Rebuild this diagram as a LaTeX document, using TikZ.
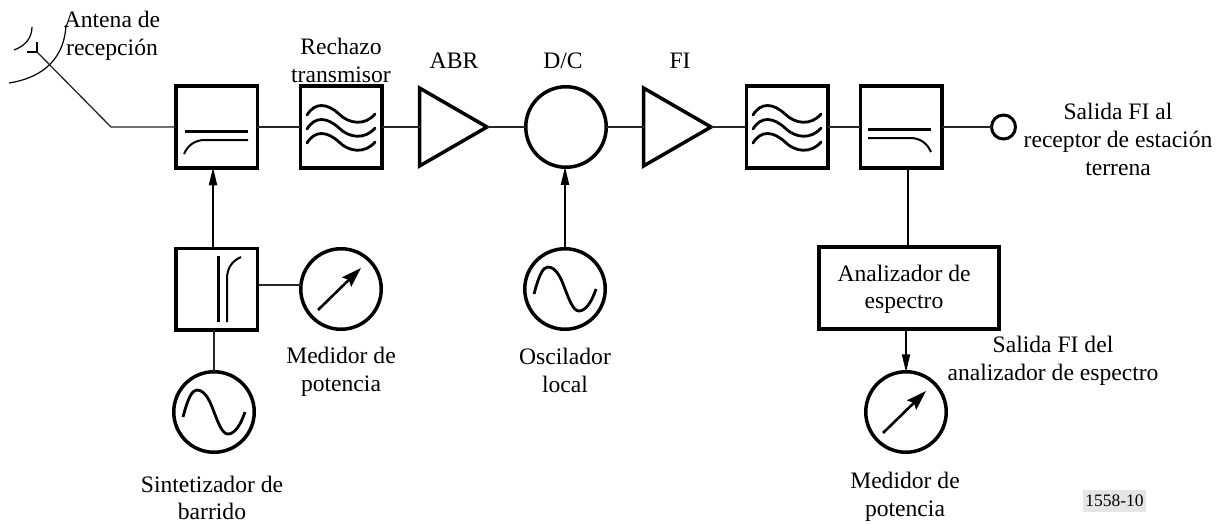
\documentclass[tikz,border=0pt]{standalone}
\usepackage{fontspec}
\setmainfont{Liberation Serif}
\usetikzlibrary{arrows.meta,shapes.geometric}
\tikzset{
  x=1pt,y=-1pt,
  thin line/.style={line width=1.3pt,draw=black!85},
  mid line/.style={line width=1.9pt},
  arrow line/.style={line width=1.9pt,-{Stealth[inset=0pt,length=18pt,width=8pt]},shorten >=-0.5pt},
  sq/.style={draw,line width=3.5pt,minimum width=81.5pt,minimum height=81.5pt,inner sep=0pt,outer sep=0pt},
  circ/.style={draw,line width=3.5pt,circle,minimum size=80.5pt,inner sep=0pt,outer sep=0pt},
  amp/.style={draw,line width=3.5pt,isosceles triangle,isosceles triangle stretches,minimum width=78pt,minimum height=67.5pt,inner sep=0pt,outer sep=0pt,anchor=west},
  lbl/.style={align=center,inner sep=0pt,font=\fontsize{23.6}{27.5}\selectfont},
  wavesym/.pic={
    \foreach \d in {-14,0,14}{
      \draw[line width=2.8pt,line cap=round] (-34,\d+2) .. controls (-26,\d-11) and (-14,\d-10) .. (-2,\d+1) .. controls (8,\d+11) and (24,\d+13) .. (34,\d+1);
    }},
  sinesym/.pic={
    \draw[line width=2.8pt] (-31,5) .. controls (-26,-14) and (-22,-22) .. (-17,-22) .. controls (-8,-22) and (-3,-8) .. (0,0) .. controls (4,10) and (8,22) .. (14,22) .. controls (21,22) and (27,12) .. (31,0);
  },
  metersym/.pic={
    \draw[line width=2.6pt,-{Stealth[inset=3pt,length=20pt,width=13pt]}] (-23,21) -- (20,-21);
  },
}
\begin{document}
\begin{tikzpicture}
\useasboundingbox (0,0) rectangle (1222,524);
% blocks
\node[sq] (b1) at (216.5,127) {};
\node[sq] (b2) at (341,127) {};
\node[amp] (abr) at (419.5,127) {};
\node[circ] (dc) at (566,127) {};
\node[amp] (fi) at (643.5,127) {};
\node[sq] (b3) at (787,127) {};
\node[sq] (b4) at (901,127) {};
\node[draw,line width=3pt,circle,minimum size=24pt,inner sep=0pt,outer sep=0pt] (out) at (1003.5,127) {};
\node[sq] (sw) at (216.5,289) {};
\node[circ] (m1) at (341,289) {};
\node[circ] (s1) at (214,412) {};
\node[circ] (lo) at (565,289) {};
\node[draw,line width=3.5pt,minimum width=180pt,minimum height=82pt,inner sep=0pt,outer sep=0pt] (sa) at (909,288) {};
\node[circ] (m2) at (906,412) {};
% antenna
\coordinate (feed) at (37,52);
\coordinate (bend) at (111,127);
\draw[line width=1.2pt] (9,83) .. controls (35,79) and (64,65) .. (66,25);
\draw[line width=1.2pt] (14,50) .. controls (25,46) and (32,38) .. (32,27);
\draw[line width=1.2pt] (27,52) -- (feed) -- (37,42);
\draw[thin line] (feed) -- (bend) -- (b1.west);
% connectors
\draw[thin line] (b1.east) -- (b2.west);
\draw[thin line] (b2.east) -- (abr.west);
\draw[thin line] (abr.east) -- (dc.west);
\draw[thin line] (dc.east) -- (fi.west);
\draw[thin line] (fi.east) -- (b3.west);
\draw[thin line] (b3.east) -- (b4.west);
\draw[thin line] (b4.east) -- (out.west);
\coordinate (swtop) at (213,248.5);
\draw[arrow line] (swtop) -- (swtop |- b1.south);
\draw[thin line] (s1.north) -- (s1.north |- sw.south);
\coordinate (swm) at (259,285);
\draw[thin line] (swm) -- (m1.west |- swm);
\draw[arrow line] (lo.north) -- (lo.north |- dc.south);
\coordinate (b4tap) at (908,168);
\draw[mid line] (b4tap) -- (b4tap |- sa.north);
\draw[arrow line] (m2.north |- sa.south) -- (m2.north);
% symbols
\draw[line width=3pt] (185,131) -- (248,131);
\draw[line width=2pt] (248,140) -- (205,140) .. controls (195,140) and (188,145) .. (184,154);
\pic at (b2.center) {wavesym};
\pic at (b3.center) {wavesym};
\draw[line width=3pt] (868,129) -- (931,129);
\draw[line width=2pt] (868,138) -- (910,138) .. controls (920,138) and (927,143) .. (931,152);
\draw[line width=3pt] (218,256) -- (218,322);
\draw[line width=2pt] (227,322) -- (227,279) .. controls (227,268) and (232,261) .. (241,257);
\pic at (s1.center) {sinesym};
\pic at (lo.center) {sinesym};
\pic at (m1.center) {metersym};
\pic at (m2.center) {metersym};
% labels
\node[lbl] (t1) at (112,36) {\strut Antena de\\\strut recepción};
\node[lbl] (t2) at (341,63) {\strut Rechazo\\\strut transmisor};
\node[lbl] (t3) at (454,63.5) {\strut ABR};
\node[lbl] (t4) at (563,63.5) {\strut D/C};
\node[lbl] (t5) at (680,63.5) {\strut FI};
\node[lbl] (t6) at (1118,142) {\strut Salida FI al\\\strut receptor de estación\\\strut terrena};
\node[lbl] (t7) at (341,372) {\strut Medidor de\\\strut potencia};
\node[lbl] (t8) at (565,373) {\strut Oscilador\\\strut local};
\node[lbl] (t9) at (212,496.4) {\strut Sintetizador de\\barrido};
\node[lbl] (t10) at (904,289.5) {\strut Analizador de\\\strut espectro};
\node[lbl] (t11) at (1053,361) {\strut Salida FI del\\\strut analizador de espectro};
\node[lbl] (t12) at (905,497) {\strut Medidor de\\\strut potencia};
\node[fill=black!10,inner sep=0pt,minimum width=63pt,minimum height=22pt,font=\fontsize{17.5}{18}\selectfont] (t13) at (1114.5,501) {1558-10};
\end{tikzpicture}
\end{document}
